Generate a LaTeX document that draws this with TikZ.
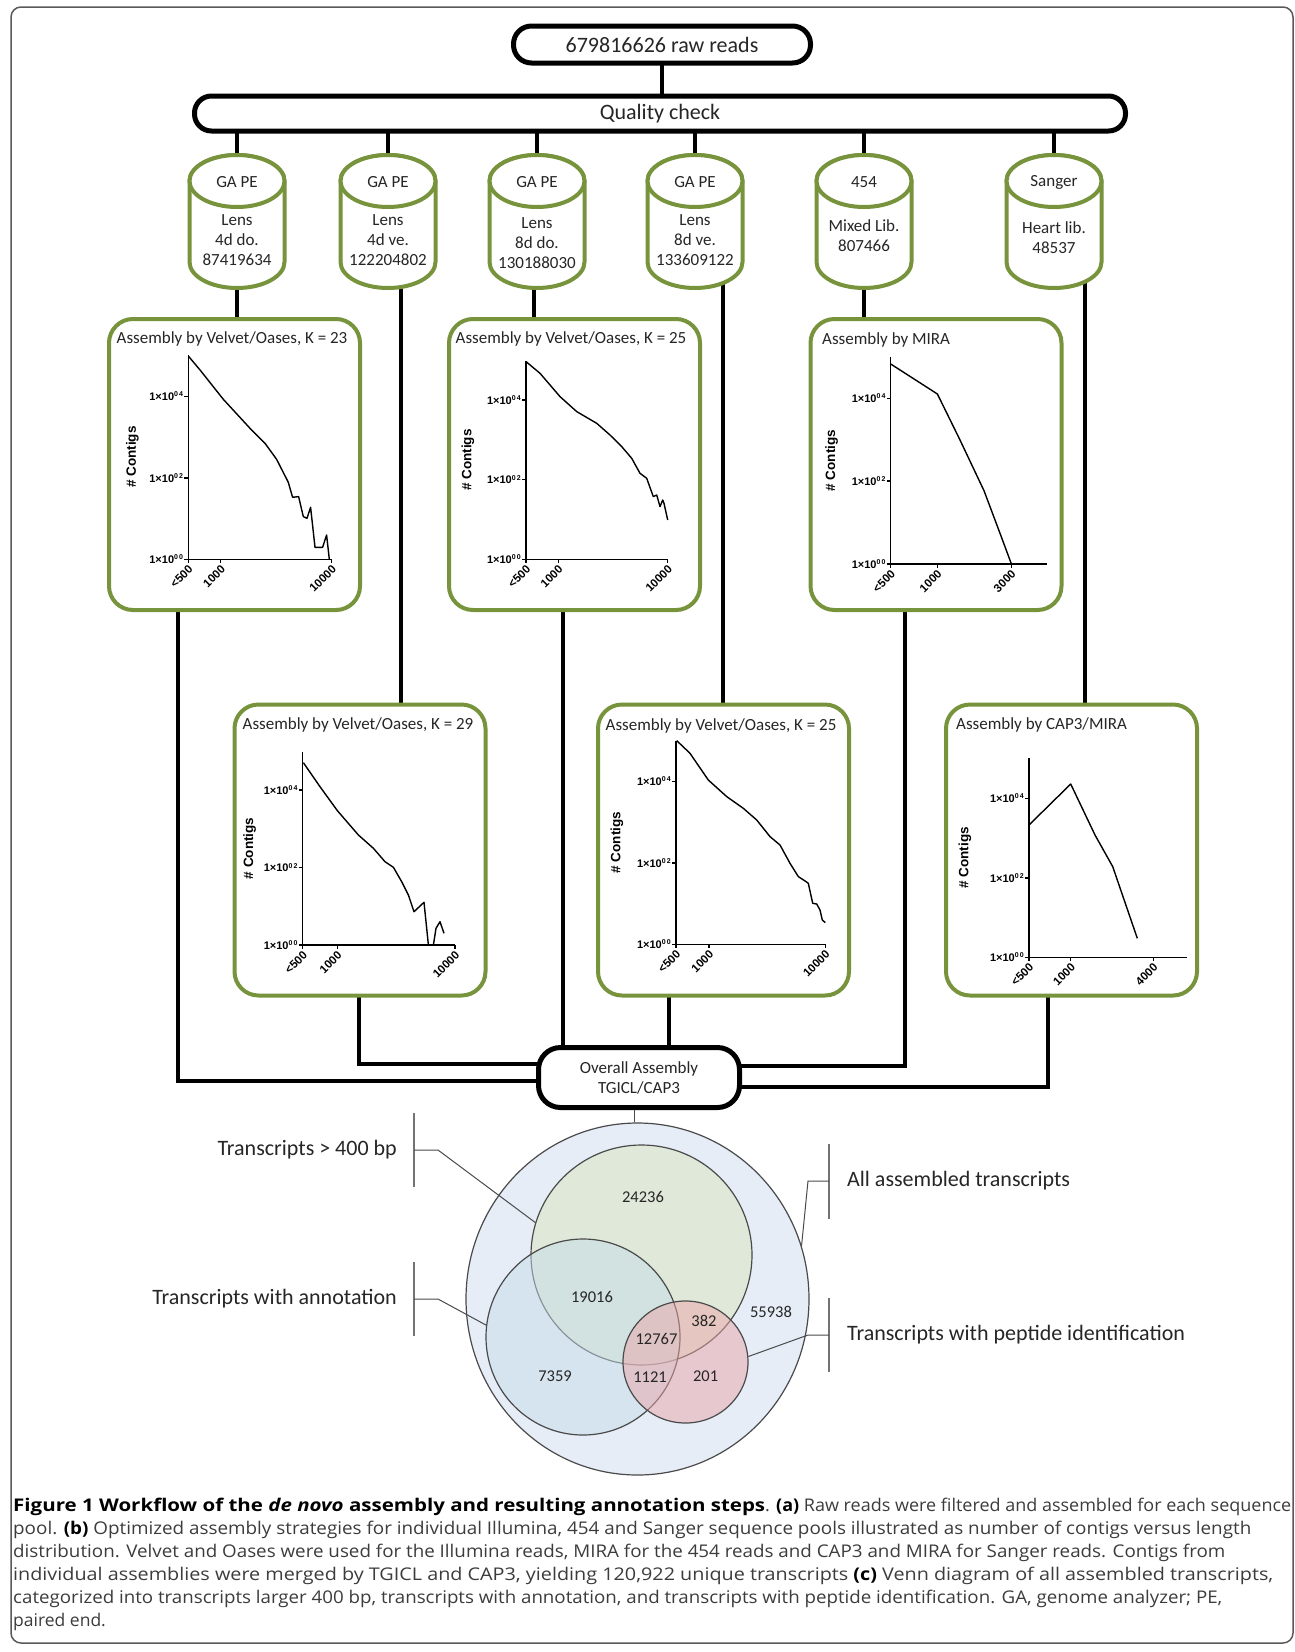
\documentclass[tikz,border=0pt]{standalone}
\usepackage{fontspec}
\usepackage{graphicx}
\setmainfont{Carlito}
\newfontfamily\arialf{Liberation Sans}
\newfontfamily\capf{Open Sans}
\usetikzlibrary{shapes.geometric}
\definecolor{olv}{HTML}{77933C}
\definecolor{vout}{RGB}{230,237,247}
\definecolor{vgreen}{RGB}{220,228,190}
\definecolor{vblue}{RGB}{198,221,233}
\definecolor{vred}{RGB}{234,165,168}
\definecolor{vstroke}{HTML}{4A4A4A}
\definecolor{capgray}{HTML}{3C3C3C}
\newcommand\mysup[1]{\raisebox{3.8pt}{\fontsize{7}{7}\selectfont #1}}
\newcommand\cplot[8]{%
\begin{scope}[shift={(#1,#2)},yscale=-1]
\draw[axisl] (0,#5) -- (0,0) -- (#3,0);
\foreach \k/\e in {0/0,1/2,2/4}{%
 \draw[axisl] (-4,\k*#4) -- (0,\k*#4);
 \node[ytl] at (-5,\k*#4) {1×10\mysup{0\,\e}};}
\foreach \p/\l in {#7}{%
 \draw[axisl] (\p,0) -- (\p,-4);
 \node[xtl] at (\p+2.5,-8) {\l};}
\node[ylab] at (#6,#5/2) {\# Contigs};
\draw[curvel] #8;
\end{scope}}
\newcommand\cyl[5]{%
 \path[cylline] (#2-47.5,181) -- (#2-47.5,262) arc[start angle=180,end angle=0,x radius=47.5,y radius=26] -- (#2+47.5,181) arc[start angle=0,end angle=-180,x radius=47.5,y radius=26] -- cycle;
 \draw[cylline] (#2,181) ellipse[x radius=47.5,y radius=26];
 \node[cyltext] (#1h) at (#2,182) {#3};
 \node[cyltext,align=center] (#1b) at (#2,#5) {#4};
}
\begin{document}
\begin{tikzpicture}[x=1pt,y=-1pt,
 conn/.style={line width=4, black},
 blk/.style={draw=black, line width=5, fill=white, inner sep=0, font=\fontsize{22}{26}\selectfont, text=black!85},
 cylbox/.style={minimum width=95, minimum height=133, inner sep=0},
 cylline/.style={draw=olv, line width=4, fill=white},
 cyltext/.style={font=\fontsize{17}{20}\selectfont, text=black!85, inner sep=0},
 plotbox/.style={draw=olv, line width=4, fill=white, rounded corners=24, minimum width=251, minimum height=291, inner sep=0},
 ptitle/.style={font=\fontsize{17}{20}\selectfont, text=black!85, inner sep=0},
 axisl/.style={line width=1.5, black},
 curvel/.style={line width=1.4, black, line join=round},
 ytl/.style={font=\arialf\bfseries\fontsize{11}{12}\selectfont, anchor=east, inner sep=0},
 xtl/.style={font=\arialf\bfseries\fontsize{11.5}{12}\selectfont, anchor=east, rotate=45, inner sep=0},
 ylab/.style={font=\arialf\bfseries\fontsize{13.5}{15}\selectfont, rotate=90, inner sep=0},
 venn/.style={ellipse, draw=vstroke, line width=1.2, inner sep=0},
 vnum/.style={font=\fontsize{16.5}{18}\selectfont, text=black!85, inner sep=0},
 lab/.style={font=\fontsize{22}{26}\selectfont, text=black!85, inner sep=0},
 brk/.style={draw=black!55, line width=1.1},
 pointer/.style={draw=vstroke, line width=1},
 capn/.style={anchor=base west, inner sep=0, font=\capf\fontsize{17.5}{22}\selectfont, text=capgray}
]
\useasboundingbox (0,0) rectangle (1295,1652);
\fill[white] (0,0) rectangle (1295,1652);
\draw[black!65, line width=1.5, rounded corners=10] (11,7) rectangle (1293,1643);

% named nodes for cylinders, plot boxes and boxes
\node[cylbox] (c1) at (237,221.5) {};
\node[cylbox] (c2) at (388,221.5) {};
\node[cylbox] (c3) at (537,221.5) {};
\node[cylbox] (c4) at (695,221.5) {};
\node[cylbox] (c5) at (864,221.5) {};
\node[cylbox] (c6) at (1054,221.5) {};
\node[plotbox, draw=none, fill=none] (b1) at (234.5,464.5) {};
\node[plotbox, draw=none, fill=none] (b2) at (574.5,464.5) {};
\node[plotbox, draw=none, fill=none] (b3) at (936,464.5) {};
\node[plotbox, draw=none, fill=none] (b4) at (360,850) {};
\node[plotbox, draw=none, fill=none] (b5) at (723.5,850) {};
\node[plotbox, draw=none, fill=none] (b6) at (1071.5,850) {};
\node[minimum width=201, minimum height=60, inner sep=0] (ovp) at (639,1077.5) {};
\node[minimum width=297, minimum height=37, inner sep=0] (rawp) at (662,44.5) {};
\node[minimum width=931, minimum height=35, inner sep=0] (qcp) at (660,113.5) {};

% connectors
\draw[conn] (rawp.center) -- (rawp.center |- qcp.center);
\foreach \c in {c1,c2,c3,c4,c5,c6}{\draw[conn] (\c.center |- qcp.center) -- (\c.center);}
\draw[conn] (c1.center) -- (c1.center |- b1.center);
\draw[conn] ([xshift=13]c2.center) -- ([xshift=13]c2.center |- b4.center);
\draw[conn] ([xshift=-3]c3.center) -- ([xshift=-3]c3.center |- b2.center);
\draw[conn] ([xshift=28]c4.center) -- ([xshift=28]c4.center |- b5.center);
\draw[conn] (c5.center) -- (c5.center |- b3.center);
\draw[conn] ([xshift=31]c6.center) -- ([xshift=31]c6.center |- b6.center);
\draw[conn] ([xshift=-56.5]b1.center) |- ([yshift=-3.5]ovp.center);
\draw[conn] ([xshift=-1]b4.center) |- ([yshift=13.5]ovp.center);
\draw[conn] ([xshift=-11.5]b2.center) -- ([xshift=-11.5]b2.center |- ovp.center);
\draw[conn] ([xshift=-54.5]b5.center) -- ([xshift=-54.5]b5.center |- ovp.center);
\draw[conn] ([xshift=-31]b3.center) |- ([yshift=11.5]ovp.center);
\draw[conn] ([xshift=-23.5]b6.center) |- ([yshift=-9.5]ovp.center);

% black boxes
\node[blk, minimum width=297, minimum height=37, rounded corners=18] (raw) at (rawp) {679816626 raw reads};
\node[blk, minimum width=931, minimum height=35, rounded corners=17] (qc) at (qcp) {Quality check};
\node[blk, minimum width=201, minimum height=60, rounded corners=22, font=\fontsize{17}{20}\selectfont, align=center] (ov) at (ovp) {Overall Assembly\\TGICL/CAP3};

% cylinders
\cyl{cy1}{237}{GA PE}{Lens\\4d do.\\87419634}{240}
\cyl{cy2}{388}{GA PE}{Lens\\4d ve.\\122204802}{240}
\cyl{cy3}{537}{GA PE}{Lens\\8d do.\\130188030}{243}
\cyl{cy4}{695}{GA PE}{Lens\\8d ve.\\133609122}{240}
\cyl{cy5}{864}{454}{Mixed Lib.\\807466}{236}
\cyl{cy6}{1054}{Sanger}{Heart lib.\\48537}{238}

% plot boxes
\node[plotbox] (pb1) at (b1) {};
\node[plotbox] (pb2) at (b2) {};
\node[plotbox] (pb3) at (b3) {};
\node[plotbox] (pb4) at (b4) {};
\node[plotbox] (pb5) at (b5) {};
\node[plotbox] (pb6) at (b6) {};
\node[ptitle] (tt1) at (232,339) {Assembly by Velvet/Oases, K = 23};
\node[ptitle] (tt2) at (571,339) {Assembly by Velvet/Oases, K = 25};
\node[ptitle, anchor=west] (tt3) at (822,340) {Assembly by MIRA};
\node[ptitle] (tt4) at (358,725) {Assembly by Velvet/Oases, K = 29};
\node[ptitle] (tt5) at (721,726) {Assembly by Velvet/Oases, K = 25};
\node[ptitle, anchor=west] (tt6) at (956,725) {Assembly by CAP3/MIRA};

\cplot{188.3}{559.3}{143.4}{81.5}{204.3}{-56}{0/{<500},32.4/1000,143.4/10000}{(0,203.3) -- (12,189) -- (35,160) -- (61.7,131) -- (76.7,116) -- (88.3,100) -- (100,77) -- (104.3,62) -- (110.3,62.7) -- (115,42.7) -- (118.7,41) -- (122.3,52) -- (126.7,12) -- (134.3,12) -- (138.3,24.3) -- (141,0)}
\cplot{526}{559.3}{141.7}{79.7}{198.6}{-58}{0/{<500},32.3/1000,141.7/10000}{(0,197.7) -- (14,186) -- (34,162.7) -- (50.7,147.7) -- (70.7,136) -- (84,124.3) -- (95.7,112.7) -- (105.7,101) -- (114,86) -- (120.7,81) -- (127.3,62.7) -- (130.7,64.3) -- (134,52.7) -- (136.7,59.3) -- (138,56) -- (141.7,39.3)}
\cplot{890.7}{564}{156}{82.8}{206.7}{-59}{0/{<500},46.6/1000,120.6/3000}{(0,200) -- (46.7,170) -- (69.3,124) -- (93.3,73.3) -- (109.3,30.7) -- (120.7,0)}
\cplot{302.7}{945}{152.3}{77.5}{193.3}{-53}{0/{<500},34.6/1000,152.3/10000}{(0.7,182.3) -- (17.3,158.3) -- (34.7,134.3) -- (55.7,110) -- (70.7,96.7) -- (82.3,83.3) -- (90.7,77.7) -- (99,63.3) -- (105.7,50) -- (111.3,33.3) -- (121.3,42.7) -- (125.7,0) (130.7,0) -- (133.3,16.7) -- (137.3,23.3) -- (141.3,11.7)}
\cplot{676}{944.3}{149.3}{81.5}{203.6}{-59}{0/{<500},33/1000,149.3/10000}{(0.7,203.7) -- (14,191) -- (32.3,164.3) -- (50.7,147.7) -- (67.3,136) -- (80.7,124.3) -- (94,107.7) -- (104,99.3) -- (114,81) -- (122.3,67.7) -- (130,62.7) -- (132.3,61) -- (136.7,41) -- (140.7,40.3) -- (144,34.3) -- (146.3,24.3) -- (149.3,21.7)}
\cplot{1029}{957.3}{158.3}{79.5}{199}{-64}{0/{<500},41.7/1000,124.3/4000}{(0,132.3) -- (41.7,173.3) -- (66,122.3) -- (83.7,90.7) -- (108.3,19)}

% Venn
\node[venn, fill=vout, minimum width=343, minimum height=352] (vall) at (637.5,1299) {};
\draw[pointer] ([xshift=-5]ov.south) -- ([xshift=-5]ov.south |- vall.north);
\node[venn, fill=vgreen, fill opacity=0.5, minimum width=221, minimum height=220] (vg) at (641.5,1255) {};
\node[venn, fill=vblue, fill opacity=0.5, minimum width=194, minimum height=196] (vb) at (583,1337) {};
\node[venn, fill=vred, fill opacity=0.5, minimum width=125, minimum height=122] (vr) at (685.5,1362) {};

\node[vnum] (n1) at (643,1197) {24236};
\node[vnum] (n2) at (592,1297) {19016};
\node[vnum] (n3) at (704,1321) {382};
\node[vnum] (n4) at (771,1312) {55938};
\node[vnum] (n5) at (656.5,1339) {12767};
\node[vnum] (n6) at (555,1376) {7359};
\node[vnum] (n7) at (650,1377) {1121};
\node[vnum] (n8) at (705.6,1376) {201};

\node[lab, anchor=east] (t1) at (397,1150) {Transcripts > 400 bp};
\draw[brk] ([xshift=17,yshift=37]t1.east) -- ([xshift=17,yshift=-37]t1.east);
\draw[pointer] ([xshift=17]t1.east) -- ([xshift=41]t1.east) -- (vg.163);
\node[lab, anchor=east] (t2) at (397,1299) {Transcripts with annotation};
\draw[brk] ([xshift=17,yshift=37]t2.east) -- ([xshift=17,yshift=-37]t2.east);
\draw[pointer] ([xshift=17]t2.east) -- ([xshift=41]t2.east) -- (vb.173);
\node[lab, anchor=west] (t3) at (847,1181) {All assembled transcripts};
\draw[brk] ([xshift=-18,yshift=37.5]t3.west) -- ([xshift=-18,yshift=-37.5]t3.west);
\draw[pointer] ([xshift=-18]t3.west) -- ([xshift=-39]t3.west) -- (vall.18.5);
\node[lab, anchor=west] (t4) at (847,1335) {Transcripts with peptide identification};
\draw[brk] ([xshift=-18,yshift=37]t4.west) -- ([xshift=-18,yshift=-37]t4.west);
\draw[pointer] ([xshift=-18]t4.west) -- ([xshift=-39]t4.west) -- (vr.5);

% caption
\node[capn] (cap1) at (13,1511) {\resizebox{752pt}{\height}{\bfseries\color{black}Figure 1 Workflow of the \textit{de novo} assembly and resulting annotation steps}\resizebox{526pt}{\height}{. {\bfseries\color{black}(a)} Raw reads were filtered and assembled for each sequence}};
\node[capn] (cap2) at (13,1534) {\resizebox{1238pt}{\height}{pool. {\bfseries\color{black}(b)} Optimized assembly strategies for individual Illumina, 454 and Sanger sequence pools illustrated as number of contigs versus length}};
\node[capn] (cap3) at (13,1557) {\resizebox{1212pt}{\height}{distribution. Velvet and Oases were used for the Illumina reads, MIRA for the 454 reads and CAP3 and MIRA for Sanger reads. Contigs from}};
\node[capn] (cap4) at (13,1580) {\resizebox{1260pt}{\height}{individual assemblies were merged by TGICL and CAP3, yielding 120,922 unique transcripts {\bfseries\color{black}(c)} Venn diagram of all assembled transcripts,}};
\node[capn] (cap5) at (13,1603) {\resizebox{1209pt}{\height}{categorized into transcripts larger 400 bp, transcripts with annotation, and transcripts with peptide identification. GA, genome analyzer; PE,}};
\node[capn] (cap6) at (13,1626) {paired end.};
\end{tikzpicture}
\end{document}
